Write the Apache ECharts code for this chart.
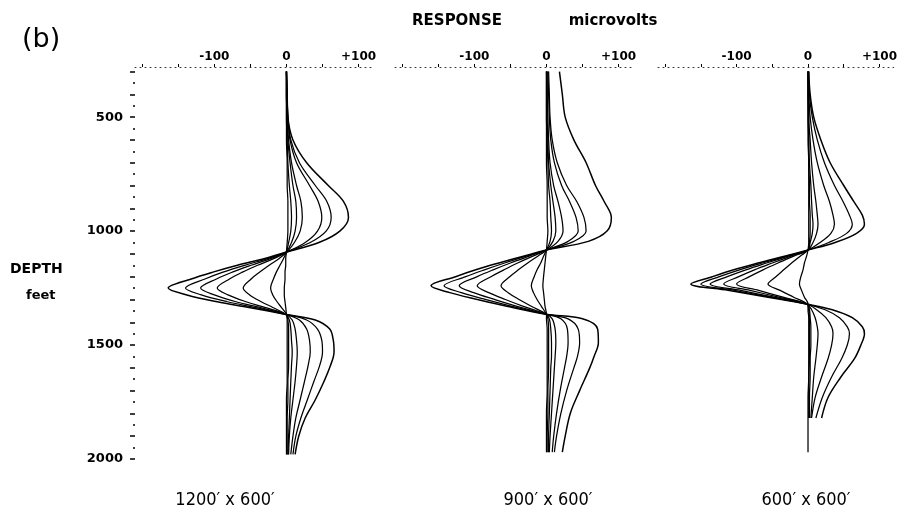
<!DOCTYPE html>
<html>
<head>
<meta charset="utf-8">
<script src="https://cdn.jsdelivr.net/npm/echarts@6/dist/echarts.min.js"></script>
<style>
html,body{margin:0;padding:0;background:#fff;}
#chart{width:900px;height:532px;}
</style>
</head>
<body>
<div id="chart"></div>
<script>
// ---- Data (response in microvolts vs depth in feet) ----
const panelTitles = ["1200\u2032 x 600\u2032", "900\u2032 x 600\u2032", "600\u2032 x 600\u2032"];
const xTickLabels = [-100, 0, 100];
const yTickLabels = [500, 1000, 1500, 2000];

// Panel A: 1200' x 600'
const depthA = [300, 400, 500, 600, 700, 800, 870, 940, 1000, 1050, 1092, 1120, 1150, 1180, 1210, 1250, 1280, 1310, 1335, 1365, 1390, 1430, 1480, 1530, 1590, 1660, 1740, 1820, 1900, 1980];
const a1 = [0, 1, 2, 9, 28, 58, 79, 86, 74, 45, 0, -30, -68, -102, -132, -164, -138, -96, -52, -2, 40, 60, 65, 66, 61, 52, 40, 26, 17, 12];
const a2 = [0, 1, 2, 6, 18, 40, 56, 62, 55, 33, 0, -25, -58, -88, -113, -140, -118, -82, -44, -2, 28, 43, 49, 50, 46, 38, 29, 20, 13, 9];
const a3 = [0, 1, 2, 5, 14, 32, 44, 49, 43, 26, 0, -21, -49, -75, -97, -119, -100, -70, -37, -1, 18, 28, 32, 33, 30, 25, 19, 13, 9, 6];
const a4 = [0, 0, 1, 3, 7, 14, 20, 22, 19, 11, 0, -17, -40, -61, -79, -96, -81, -56, -30, -1, 8, 12, 14, 15, 14, 12, 9, 6, 4, 3];
const a5 = [0, 0, 1, 2, 5, 9, 13, 14, 12, 7, 0, -10, -24, -37, -49, -60, -51, -35, -19, -1, 4, 6, 7, 8, 7, 6, 5, 4, 3, 2];
const a6 = [0, 0, 0, 1, 2, 4, 6, 7, 6, 3, 0, -4, -9, -14, -18, -22, -19, -13, -7, 0, 2, 3, 3, 3, 3, 2, 2, 1, 1, 1];
const a7 = [0, 0, 0, 0, 1, 1, 2, 2, 2, 1, 0, -1, -1, -2, -2, -3, -3, -2, -1, 0, 1, 1, 1, 1, 1, 1, 0, 0, 0, 0];

// Panel B: 900' x 600'
const depthB = [300, 400, 500, 600, 700, 800, 870, 940, 1000, 1045, 1083, 1110, 1140, 1170, 1200, 1240, 1270, 1300, 1330, 1365, 1385, 1430, 1490, 1550, 1600, 1700, 1800, 1900, 1970];
const b1 = [18, 22, 26, 38, 55, 68, 80, 90, 84, 58, 0, -32, -66, -98, -126, -160, -134, -96, -55, 0, 50, 71, 72, 66, 60, 46, 33, 26, 22];
const b2 = [3, 4, 5, 8, 15, 28, 42, 52, 55, 38, 0, -28, -58, -86, -112, -142, -118, -85, -48, 0, 30, 44, 46, 43, 38, 28, 20, 14, 11];
const b3 = [2, 3, 4, 6, 11, 21, 32, 41, 44, 30, 0, -24, -50, -74, -96, -121, -101, -72, -41, 0, 20, 29, 30, 28, 25, 19, 14, 10, 8];
const b4 = [1, 1, 2, 3, 5, 10, 16, 21, 23, 16, 0, -19, -40, -59, -77, -96, -80, -57, -32, 0, 8, 12, 13, 12, 11, 9, 7, 5, 4];
const b5 = [0, 1, 1, 2, 3, 6, 9, 12, 13, 9, 0, -12, -26, -39, -51, -63, -53, -38, -21, 0, 4, 6, 7, 7, 6, 5, 4, 3, 3];
const b6 = [0, 0, 0, 1, 2, 3, 5, 6, 7, 5, 0, -4, -8, -13, -17, -21, -18, -13, -7, 0, 2, 3, 3, 3, 3, 2, 2, 1, 1];
const b7 = [0, 0, 0, 0, 0, 1, 1, 1, 2, 1, 0, -1, -2, -3, -4, -5, -4, -3, -2, 0, 0, 1, 1, 1, 1, 1, 0, 0, 0];

// Panel C: 600' x 600'
const depthC = [300, 400, 500, 600, 700, 800, 870, 930, 970, 1010, 1050, 1083, 1110, 1140, 1170, 1200, 1232, 1260, 1290, 1320, 1345, 1380, 1420, 1450, 1500, 1560, 1640, 1730, 1820, 1900, 1970];
const c1 = [1, 3, 8, 18, 31, 50, 64, 76, 79, 68, 38, 0, -33, -70, -104, -134, -164, -112, -56, -2, 34, 62, 76, 79, 74, 65, 46, 28, 19, null, null];
const c2 = [1, 2, 6, 13, 23, 37, 49, 58, 62, 54, 29, 0, -30, -64, -96, -124, -150, -103, -52, -2, 24, 44, 55, 58, 55, 47, 33, 20, 11, null, null];
const c3 = [0, 1, 3, 7, 13, 22, 30, 35, 37, 32, 17, 0, -28, -58, -87, -113, -137, -94, -48, -2, 12, 25, 33, 35, 33, 28, 19, 10, 5, null, null];
const c4 = [0, 1, 1, 3, 5, 8, 11, 13, 14, 12, 7, 0, -24, -50, -75, -97, -118, -81, -41, -2, 5, 10, 13, 14, 13, 11, 8, 6, 4, null, null];
const c5 = [0, 0, 1, 1, 2, 4, 5, 6, 7, 6, 3, 0, -20, -42, -63, -82, -100, -69, -35, -1, 2, 3, 4, 4, 4, 3, 3, 2, 2, null, null];
const c6 = [0, 0, 0, 1, 1, 2, 2, 3, 3, 3, 2, 0, -11, -23, -34, -45, -56, -39, -20, -1, 1, 2, 2, 2, 2, 2, 1, 1, 1, null, null];
const c7 = [0, 0, 0, 0, 1, 1, 1, 1, 1, 1, 1, 0, -2, -5, -7, -10, -12, -9, -5, 0, 0, 1, 1, 1, 1, 1, 1, 0, 0, 0, 0];

const panels = [
  { depth: depthA, curves: [a1, a2, a3, a4, a5, a6, a7] },
  { depth: depthB, curves: [b1, b2, b3, b4, b5, b6, b7] },
  { depth: depthC, curves: [c1, c2, c3, c4, c5, c6, c7] }
];

// ---- Layout ----
const X_MIN = -210, X_MAX = 120, Y_MIN = 280, Y_MAX = 2000;
const gridLefts = [135, 395, 658];
const GRID_W = 238, GRID_TOP = 67, GRID_H = 392;
const FONT = "DejaVu Sans";

const grids = gridLefts.map(l => ({ left: l, top: GRID_TOP, width: GRID_W, height: GRID_H }));

const majorY = [], minorY = [];
for (let d = 300; d <= 2000; d += 100) majorY.push(d);
for (let d = 350; d < 2000; d += 100) minorY.push(d);

const xAxes = gridLefts.map((_, i) => ({
  gridIndex: i, type: 'value', position: 'top', min: X_MIN, max: X_MAX,
  axisLine: { show: true, onZero: false, lineStyle: { color: '#333', type: [1, 4], width: 1 } },
  axisTick: { show: true, customValues: [-200, -150, -100, -50, 0, 50, 100], length: 3, lineStyle: { color: '#000', width: 1 } },
  axisLabel: {
    customValues: xTickLabels, margin: 4, color: '#000', fontSize: 12, fontWeight: 'bold', fontFamily: FONT,
    formatter: v => (v > 0 ? '+' + v : String(v))
  },
  splitLine: { show: false }
}));

const yAxes = [
  {
    gridIndex: 0, type: 'value', inverse: true, min: Y_MIN, max: Y_MAX, position: 'left',
    axisLine: { show: false, onZero: false },
    axisTick: { show: true, customValues: majorY, length: 5, lineStyle: { color: '#000', width: 1.5 } },
    axisLabel: { customValues: yTickLabels, margin: 12, color: '#000', fontSize: 13, fontWeight: 'bold', fontFamily: FONT, formatter: v => String(v) },
    splitLine: { show: false }
  },
  { gridIndex: 1, type: 'value', inverse: true, min: Y_MIN, max: Y_MAX, show: false },
  { gridIndex: 2, type: 'value', inverse: true, min: Y_MIN, max: Y_MAX, show: false },
  {
    gridIndex: 0, type: 'value', inverse: true, min: Y_MIN, max: Y_MAX, position: 'left', offset: 0,
    axisLine: { show: false, onZero: false },
    axisTick: { show: true, customValues: minorY, length: 2, lineStyle: { color: '#000', width: 1.5 } },
    axisLabel: { show: false }, splitLine: { show: false }
  }
];

const series = [];
panels.forEach((p, i) => {
  p.curves.forEach((vals, k) => {
    series.push({
      type: 'line', xAxisIndex: i, yAxisIndex: i,
      data: vals.map((v, j) => (v === null ? [null, p.depth[j]] : [v, p.depth[j]])),
      showSymbol: false, smooth: 0.35, connectNulls: false,
      lineStyle: { color: '#000', width: k === 0 ? 1.5 : 1.25 },
      silent: true, z: 3
    });
  });
});

const textStyle = (txt, extra) => Object.assign({ text: txt, fill: '#000', fontFamily: FONT }, extra);

const graphics = [
  { type: 'text', left: 22, top: 26, style: textStyle('(b)', { fontSize: 27 }) },
  { type: 'text', x: 457, y: 21, style: textStyle('RESPONSE', { fontSize: 15, fontWeight: 'bold', textAlign: 'center', textVerticalAlign: 'middle' }) },
  { type: 'text', x: 613, y: 21, style: textStyle('microvolts', { fontSize: 15, fontWeight: 'bold', textAlign: 'center', textVerticalAlign: 'middle' }) },
  { type: 'text', left: 10, top: 262, style: textStyle('DEPTH', { fontSize: 14, fontWeight: 'bold' }) },
  { type: 'text', left: 26, top: 289, style: textStyle('feet', { fontSize: 13, fontWeight: 'bold' }) }
];
const titleCenters = [225, 548, 806];
panelTitles.forEach((t, i) => {
  graphics.push({
    type: 'text', x: titleCenters[i], y: 500,
    style: textStyle(t, { fontSize: 18, fontFamily: 'DejaVu Sans Condensed', textAlign: 'center', textVerticalAlign: 'middle' })
  });
});

const chart = echarts.init(document.getElementById('chart'), null, { renderer: 'canvas' });
chart.setOption({
  animation: false,
  backgroundColor: '#fff',
  grid: grids,
  xAxis: xAxes,
  yAxis: yAxes,
  series: series,
  graphic: graphics
});
</script>
</body>
</html>
